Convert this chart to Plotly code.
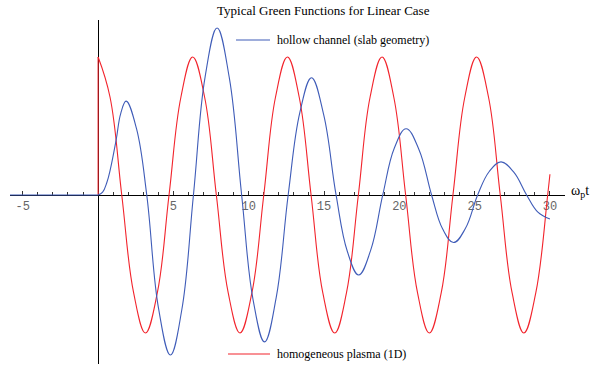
import plotly.graph_objects as go

# ---- data ----
blue_neg_t = [-5.85, 0.0]
blue_neg_v = [0.0, 0.0]
blue_t = [0.0, 0.3, 0.58, 0.8, 1.2, 1.5, 1.86, 2.55, 3.23,
          4.01, 4.80, 5.56, 6.33, 7.11, 7.90, 8.71, 9.53,
          10.29, 11.05, 11.83, 12.62, 13.40, 14.17, 14.98, 15.80,
          16.55, 17.30, 18.10, 18.90, 19.67, 20.45, 21.30, 22.14,
          22.87, 23.60, 24.40, 25.20, 25.97, 26.75, 27.60, 28.45,
          29.20, 30.0]
blue_v = [0.0, 0.02, 0.09, 0.18, 0.40, 0.59, 0.68, 0.48, 0.0,
          -0.82, -1.16, -0.83, 0.0, 0.86, 1.21, 0.85, 0.0,
          -0.76, -1.065, -0.74, 0.0, 0.60, 0.85, 0.58, 0.0,
          -0.41, -0.58, -0.40, 0.0, 0.34, 0.48, 0.33, 0.0,
          -0.245, -0.345, -0.24, 0.0, 0.17, 0.24, 0.165, 0.0,
          -0.125, -0.175]

red_t = [0.0, 0.79, 1.57, 2.36, 3.14, 3.93, 4.71, 5.50, 6.28, 7.07, 7.85,
         8.64, 9.42, 10.21, 11.0, 11.78, 12.57, 13.35, 14.14, 14.92, 15.71,
         16.49, 17.28, 18.06, 18.85, 19.63, 20.42, 21.21, 21.99, 22.78,
         23.56, 24.35, 25.13, 25.92, 26.70, 27.49, 28.27, 29.06, 29.85, 30.0]
red_v = [1, .71, 0, -.71, -1, -.71, 0, .71, 1, .71, 0,
         -.71, -1, -.71, 0, .71, 1, .71, 0, -.71, -1,
         -.71, 0, .71, 1, .71, 0, -.71, -1, -.71,
         0, .71, 1, .71, 0, -.71, -1, -.71, 0, 0.15]
red_jump_t = [0.0, 0.0]
red_jump_v = [0.0, 1.0]

x_ticks = [-5, 5, 10, 15, 20, 25, 30]
x_tick_text = ["-5", "5", "10", "15", "20", "25", "30"]
title_text = "Typical Green Functions for Linear Case"
blue_name = "hollow channel (slab geometry)"
red_name = "homogeneous plasma (1D)"

BLUE = "#3f5cb8"
RED = "#f2242c"

X_RANGE = [-5.85, 31.0]
Y_RANGE = [-1.225, 1.268]

fig = go.Figure()
fig.add_trace(go.Scatter(x=red_jump_t, y=red_jump_v, mode="lines",
                         line=dict(color=RED, width=1.1), hoverinfo="skip"))
fig.add_trace(go.Scatter(x=red_t, y=red_v, mode="lines",
                         line=dict(color=RED, width=1.1, shape="spline", smoothing=1.15),
                         hoverinfo="skip"))
fig.add_trace(go.Scatter(x=blue_neg_t, y=blue_neg_v, mode="lines",
                         line=dict(color=BLUE, width=1.1), hoverinfo="skip"))
fig.add_trace(go.Scatter(x=blue_t, y=blue_v, mode="lines",
                         line=dict(color=BLUE, width=1.1, shape="spline", smoothing=1.15),
                         hoverinfo="skip"))

y0_frac = (0 - Y_RANGE[0]) / (Y_RANGE[1] - Y_RANGE[0])
x0_frac = (0 - X_RANGE[0]) / (X_RANGE[1] - X_RANGE[0])

fig.update_layout(
    width=602, height=370,
    margin=dict(l=10, r=37, t=20, b=6),
    paper_bgcolor="white", plot_bgcolor="white",
    showlegend=False,
    xaxis=dict(range=X_RANGE, showgrid=False, zeroline=False,
               showline=True, linecolor="black", linewidth=1,
               anchor="free", position=y0_frac, layer="below traces",
               tickmode="array", tickvals=x_ticks, ticktext=x_tick_text,
               ticks="inside", ticklen=4, tickcolor="#333", tickwidth=1,
               minor=dict(dtick=1, tick0=0, ticks="inside", ticklen=3, tickcolor="#333", tickwidth=1),
               tickfont=dict(family="Liberation Mono", size=12, color="#666")),
    yaxis=dict(range=Y_RANGE, showgrid=False, zeroline=False,
               showline=True, linecolor="black", linewidth=1,
               anchor="free", position=x0_frac, layer="below traces",
               showticklabels=False, ticks=""),
)

def px_to_paper_x(px):
    return (px - 10) / 555.0

def px_to_paper_y(py):
    return (364 - py) / 344.0

fig.add_annotation(text=title_text, xref="paper", yref="paper",
                   x=px_to_paper_x(323), y=px_to_paper_y(11), xanchor="center", yanchor="middle",
                   showarrow=False, font=dict(family="Liberation Serif", size=13, color="black"))

# legend-like labels
fig.add_shape(type="line", xref="paper", yref="paper",
              x0=px_to_paper_x(236), x1=px_to_paper_x(270),
              y0=px_to_paper_y(40), y1=px_to_paper_y(40),
              line=dict(color=BLUE, width=1.1))
fig.add_annotation(text=blue_name, xref="paper", yref="paper",
                   x=px_to_paper_x(275), y=px_to_paper_y(40), xanchor="left", yanchor="middle",
                   showarrow=False, font=dict(family="Liberation Serif", size=12, color="black"))
fig.add_shape(type="line", xref="paper", yref="paper",
              x0=px_to_paper_x(228), x1=px_to_paper_x(270),
              y0=px_to_paper_y(354), y1=px_to_paper_y(354),
              line=dict(color=RED, width=1.1))
fig.add_annotation(text=red_name, xref="paper", yref="paper",
                   x=px_to_paper_x(275), y=px_to_paper_y(354), xanchor="left", yanchor="middle",
                   showarrow=False, font=dict(family="Liberation Serif", size=12, color="black"))

fig.add_annotation(text="ω<sub>p</sub>t", xref="paper", yref="paper",
                   x=px_to_paper_x(569), y=px_to_paper_y(191), xanchor="left", yanchor="middle",
                   showarrow=False, font=dict(family="Liberation Serif", size=14, color="black"))

fig.write_html("out.html", config={"displayModeBar": False})
